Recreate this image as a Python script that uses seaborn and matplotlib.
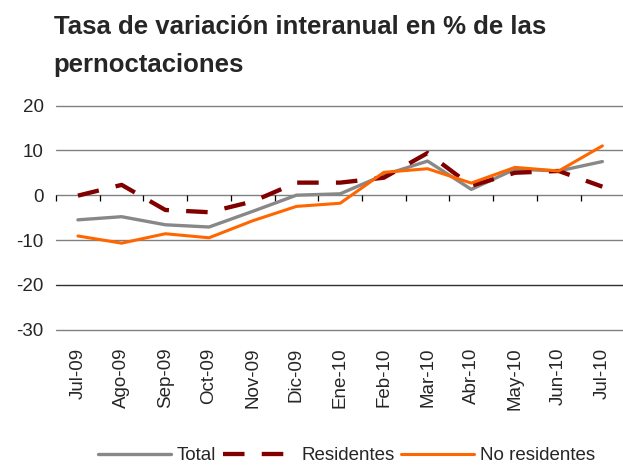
import pandas as pd
import numpy as np
import matplotlib
matplotlib.use("Agg")
import matplotlib.pyplot as plt
import seaborn as sns

meses = ["Jul-09", "Ago-09", "Sep-09", "Oct-09", "Nov-09", "Dic-09", "Ene-10",
         "Feb-10", "Mar-10", "Abr-10", "May-10", "Jun-10", "Jul-10"]
total = [-5.5, -4.8, -6.6, -7.1, -3.6, 0.0, 0.3, 4.5, 7.6, 1.3, 5.8, 5.4, 7.5]
residentes = [-0.1, 2.3, -3.3, -3.8, -1.4, 2.8, 2.8, 3.9, 9.4, 2.1, 5.0, 5.4, 1.9]
no_residentes = [-9.1, -10.7, -8.6, -9.5, -5.7, -2.5, -1.8, 5.1, 5.9, 2.7, 6.2, 5.4, 11.0]
series = ["Total", "Residentes", "No residentes"]

df = pd.DataFrame({"mes": meses, "Total": total, "Residentes": residentes,
                   "No residentes": no_residentes})
df["pos"] = range(len(meses))
long = df.melt(id_vars=["mes", "pos"], value_vars=series, var_name="serie", value_name="valor")

sns.set_style("white")
plt.rcParams["font.family"] = ["Liberation Sans", "DejaVu Sans"]

fig = plt.figure(figsize=(6.23, 4.71), dpi=100)
ax = fig.add_axes([0.09, 0.30, 0.912, 0.476])

colores = {"Total": "#888888", "Residentes": "#800000", "No residentes": "#FF6600"}
anchos = {"Total": 2.4, "Residentes": 3.1, "No residentes": 2.2}
estilos = {"Total": "", "Residentes": (5, 4), "No residentes": ""}

# lineas de rejilla
for v in np.arange(-30, 21, 10):
    ax.axhline(v, color="#808080" if v != -20 else "#303030", lw=1.0, zorder=0, clip_on=False)
# eje del cero con marcas entre categorias
ax.vlines(np.arange(len(meses) + 1) - 0.5, -1.3, 0, color="black", lw=0.9, zorder=1, clip_on=False)

for s in series:
    sub = long[long["serie"] == s]
    sns.lineplot(data=sub, x="pos", y="valor", color=colores[s], lw=anchos[s],
                 dashes=False, ax=ax, label=s, zorder=3, legend=False)
    if estilos[s]:
        ax.lines[-1].set_dashes(estilos[s])
        ax.lines[-1].set_solid_capstyle("butt")

ax.set_xlim(-0.5, len(meses) - 0.5)
ax.set_ylim(-30, 20)
ax.set_yticks(np.arange(-30, 21, 10))
ax.set_yticklabels([str(v) for v in range(-30, 21, 10)], fontsize=13.5)
ax.set_xticks(range(len(meses)))
ax.set_xticklabels(meses, rotation=90, fontsize=13.5)
ax.tick_params(axis="x", length=0, pad=13)
ax.tick_params(axis="y", length=0, pad=9)
ax.set_xlabel("")
ax.set_ylabel("")
for sp in ax.spines.values():
    sp.set_visible(False)

fig.text(0.086, 0.928, "Tasa de variación interanual en % de las",
         fontsize=18.5, fontweight="bold", va="baseline", ha="left")
fig.text(0.086, 0.847, "pernoctaciones",
         fontsize=18.5, fontweight="bold", va="baseline", ha="left")

handles = [l for l in ax.lines if l.get_label() in series]
leg = fig.legend(handles, [h.get_label() for h in handles], loc="lower center",
                 bbox_to_anchor=(0.556, -0.022), ncol=3, frameon=False, fontsize=13.5,
                 handlelength=3.9, handletextpad=0.3, columnspacing=0.35)

fig.savefig("out.png", dpi=100)
